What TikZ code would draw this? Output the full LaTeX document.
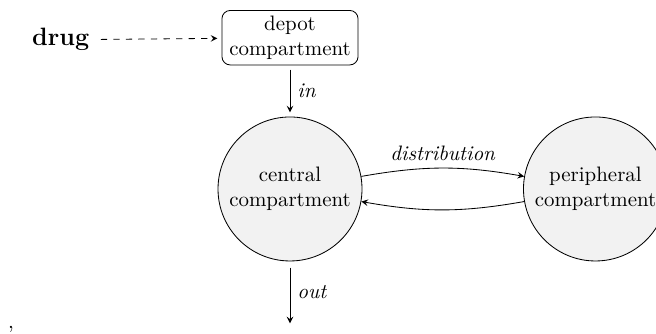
\documentclass[tikz,border=0pt]{standalone}
\usepackage{tikz}
\usetikzlibrary{positioning,arrows}

\begin{document}
\begin{tikzpicture}[>=stealth,
  compartment/.style={circle, draw, fill=gray!10, minimum size=2.42cm, align=center, inner sep=1pt},
  depotbox/.style={rectangle, draw, rounded corners=4pt, align=center, inner xsep=3.5pt, inner ysep=2.6pt},
  flow/.style={->, shorten <=2pt, shorten >=2pt},
  lbl/.style={font=\itshape}]
\clip (-4.874,-2.437) rectangle (6.151,3.176);
% the compartments
\node[compartment] (central) at (0,0) {central\\compartment};
\node[compartment, right=2.7cm of central] (peripheral) {peripheral\\compartment};
\node[depotbox, above=0.86cm of central] (depot) {depot\\compartment};
\node[left=2.1cm of depot, yshift=-1pt] (drug) {\large\bfseries drug};
\coordinate[below=1.04cm of central] (sink);
\node at (-4.69,-2.36) (comma) {,};
% dosing, absorption and elimination
\draw[flow, dashed] (drug) -- (depot);
\draw[flow] (depot) -- node[right, lbl] {in} (central);
\draw[->, shorten <=3pt] (central) -- node[right, lbl] {out} (sink);
% exchange between compartments
\draw[->] (central) to[bend left=10] node[above, lbl] {distribution} (peripheral);
\draw[->] (peripheral) to[bend left=10] (central);
\end{tikzpicture}
\end{document}
